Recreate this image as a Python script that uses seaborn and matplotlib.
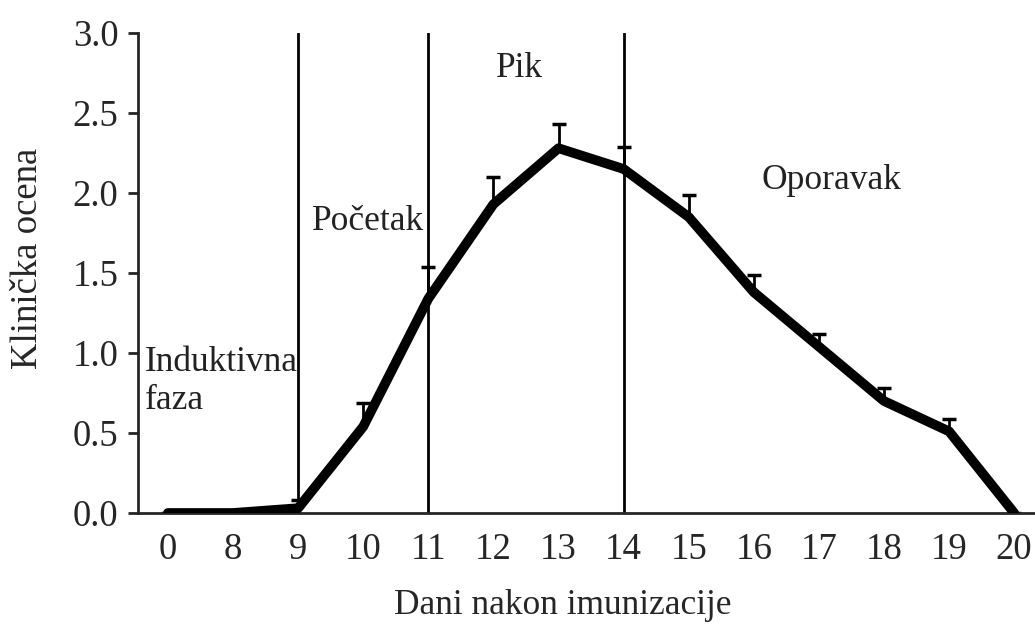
import numpy as np
import pandas as pd
import seaborn as sns
import matplotlib.pyplot as plt

days = ['0', '8', '9', '10', '11', '12', '13', '14', '15', '16', '17', '18', '19', '20']
score = [0.0, 0.0, 0.03, 0.54, 1.34, 1.93, 2.28, 2.15, 1.85, 1.38, 1.04, 0.70, 0.51, 0.0]
err = [0.0, 0.0, 0.05, 0.15, 0.20, 0.17, 0.15, 0.14, 0.14, 0.11, 0.08, 0.08, 0.08, 0.0]
phase_days = ['9', '11', '14']
phases = ['Induktivna\nfaza', 'Početak', 'Pik', 'Oporavak']

sns.set_style('ticks')
plt.rcParams['font.family'] = ['Liberation Serif', 'DejaVu Serif']
plt.rcParams['font.size'] = 26.5

df = pd.DataFrame({'day': days, 'score': score, 'err': err})
df['pos'] = np.arange(len(days))

fig = plt.figure(figsize=(10.35, 6.25), dpi=100)
ax = fig.add_axes([138 / 1035, 112 / 625, 897 / 1035, 480 / 625])

# upper error bars only, lower caps hidden
eb = ax.errorbar(df['pos'], df['score'], yerr=[np.zeros(len(err)), df['err']],
                 fmt='none', ecolor='black', elinewidth=2, capsize=5, capthick=2.5, zorder=2)
eb[1][0].set_visible(False)
sns.lineplot(data=df, x='pos', y='score', color='black', linewidth=7, ax=ax, zorder=3)

for d in phase_days:
    ax.axvline(days.index(d), color='black', linewidth=2, zorder=1)

txt = dict(color='#222222', fontsize=25.5)
ax.text(-0.36, 0.82, phases[0], ha='left', va='center', linespacing=1.2, **txt)
ax.text(2.21, 1.82, phases[1], ha='left', va='center', **txt)
ax.text(5.4, 2.78, phases[2], ha='center', va='center', **txt)
ax.text(9.12, 2.08, phases[3], ha='left', va='center', **txt)

ax.set_xlim(-0.46, 13.32)
ax.set_ylim(0, 3.0)
ax.set_xticks(df['pos'])
ax.set_xticklabels(days)
ax.set_yticks(np.arange(0, 3.01, 0.5))
ax.set_yticklabels([f'{v:.1f}' for v in np.arange(0, 3.01, 0.5)])
ax.tick_params(axis='x', length=0, pad=14)
ax.tick_params(axis='y', length=7, width=2, direction='out', pad=7)
for s in ['top', 'right']:
    ax.spines[s].set_visible(False)
ax.spines['left'].set_linewidth(2)
ax.spines['bottom'].set_linewidth(2)

ax.set_xlabel('Dani nakon imunizacije', fontsize=25.5)
ax.xaxis.label.set_va('baseline')
ax.xaxis.set_label_coords(0.473, -0.21)
ax.set_ylabel('Klinička ocena')
ax.yaxis.set_label_coords(-0.104, 0.531)

fig.savefig('out.png', dpi=100)
